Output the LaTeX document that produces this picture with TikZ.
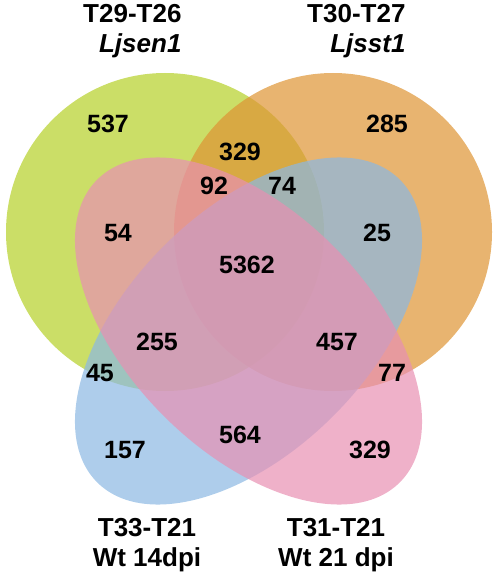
\documentclass[tikz,border=0pt]{standalone}
\usepackage{fontspec}
\setmainfont{Liberation Sans}
\definecolor{sengreen}{RGB}{181,208,39}
\definecolor{sstorange}{RGB}{222,148,51}
\definecolor{wtblue}{RGB}{139,184,227}
\definecolor{wtpink}{RGB}{232,144,178}
\begin{document}
\begin{tikzpicture}[x=1pt,y=-1pt,
	set/.style={opacity=0.7},
	num/.style={font=\fontsize{25}{28}\selectfont\bfseries},
	lab/.style={font=\fontsize{26}{30}\selectfont\bfseries}]
\useasboundingbox (0,0) rectangle (498,577);

% the four sets
\fill[sengreen,set] (165,232) circle (159pt);
\fill[sstorange,set] (333,232) circle (159pt);
\fill[wtblue,set,rotate around={45:(248.5,331)}] (248.5,331) ellipse (214pt and 120pt);
\fill[wtpink,set,rotate around={-45:(248.5,331)}] (248.5,331) ellipse (214pt and 120pt);

% set names
\path (185,31) node[lab,anchor=east,align=right] (sen) {T29-T26\\\textit{Ljsen1}};
\path (409,31) node[lab,anchor=east,align=right] (sst) {T30-T27\\\textit{Ljsst1}};
\path (147,545) node[lab,align=center] (wt14) {T33-T21\\Wt 14dpi};
\path (336,545) node[lab,align=center] (wt21) {T31-T21\\Wt 21 dpi};

% counts
\path (108,124) node[num] (a) {537};
\path (387,124) node[num] (b) {285};
\path (240,152) node[num] (ab) {329};
\path (214,186) node[num] (abd) {92};
\path (282,186) node[num] (abc) {74};
\path (118,233) node[num] (ad) {54};
\path (377,233) node[num] (bc) {25};
\path (247,265) node[num] (abcd) {5362};
\path (157,342) node[num] (acd) {255};
\path (337,342) node[num] (bcd) {457};
\path (100,373) node[num] (ac) {45};
\path (392,373) node[num] (bd) {77};
\path (240,435) node[num] (cd) {564};
\path (125,450) node[num] (c) {157};
\path (370,450) node[num] (d) {329};

\end{tikzpicture}
\end{document}
